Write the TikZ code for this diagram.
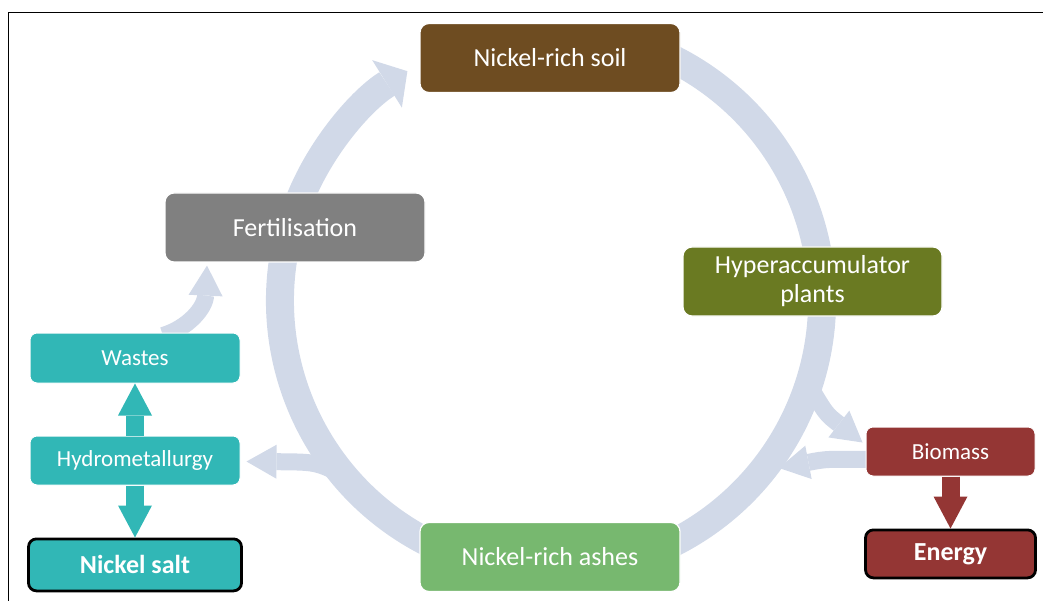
\documentclass[tikz,border=0pt]{standalone}
\usepackage{fontspec}
\setmainfont{Carlito}
\usetikzlibrary{positioning,arrows.meta,backgrounds}
\definecolor{ringblue}{HTML}{D1D9E8}
\definecolor{soilbrown}{HTML}{6E4C21}
\definecolor{plantolive}{HTML}{6A7A22}
\definecolor{ashgreen}{HTML}{77B86F}
\definecolor{fertgrey}{HTML}{808080}
\definecolor{hydroteal}{HTML}{31B7B6}
\definecolor{biored}{HTML}{943634}

\begin{document}
\begin{tikzpicture}[x=1pt, y=-1pt,
  stage/.style={rounded corners=9pt, draw=white, line width=1.2pt, text=white, minimum width=260pt, minimum height=69pt, align=center, font=\fontsize{26}{29}\selectfont},
  sidebox/.style={rounded corners=7pt, draw=white, line width=1pt, text=white, minimum height=49pt, font=\fontsize{23}{27}\selectfont},
  endbox/.style={rounded corners=8pt, draw=black, line width=2.8pt, text=white, font=\fontsize{26}{30}\selectfont\bfseries},
  ring/.style={draw=ringblue, line width=28pt},
  branch/.style={draw=ringblue, line width=17pt, -{Triangle[length=30pt,width=34pt,line width=0pt]}},
  block/.style={line width=18pt, -{Triangle[length=32pt,width=34pt,line width=0pt]}}]
\useasboundingbox (0,0) rectangle (1043,601);
\draw[line width=0.8pt] (1043,12) -- (8,12) -- (8,601);
\coordinate (ringc) at (551,301);

% cycle boxes
\node[stage, fill=soilbrown] (soil) at (550,58) {Nickel-rich soil};
\node[stage, fill=plantolive, minimum width=259pt] (plants) at (812.5,281.5) {Hyperaccumulator\\plants};
\node[stage, fill=ashgreen] (ashes) at (550,557) {Nickel-rich ashes};
\node[stage, fill=fertgrey] (fert) at (295,227.5) {Fertilisation};

% side boxes
\node[sidebox, fill=hydroteal, minimum width=210pt, minimum height=50pt] (wastes) at (135,358) {Wastes};
\node[sidebox, fill=hydroteal, minimum width=210pt, below=52pt of wastes] (hydro) {Hydrometallurgy};
\node[endbox, fill=hydroteal, minimum width=213pt, minimum height=52pt, below=52pt of hydro] (nsalt) {Nickel salt};
\node[sidebox, fill=biored, minimum width=169pt] (biomass) at (950.5,451.5) {Biomass};
\node[endbox, fill=biored, minimum width=170pt, minimum height=48pt, below=52pt of biomass] (energy) {Energy};

\begin{scope}[on background layer]
\draw[ring] (ringc) ++(-68:271) arc[start angle=-68, end angle=64, radius=271];
\draw[ring, -{Triangle[length=24pt,width=56pt,line width=0pt]}] (ringc) ++(116:271) arc[start angle=116, end angle=238, radius=271];
\path (ringc) ++(18:271) coordinate (toBio);
\path (ringc) ++(140:271) coordinate (toHydro);
\coordinate (fromBio) at (779,468);
\draw[branch] (toBio) .. controls (826,414) .. ([xshift=-3pt,yshift=9pt]biomass.west);
\draw[branch] ([xshift=5pt,yshift=-8pt]biomass.west) .. controls (826,459) .. (fromBio);
\draw[branch] (toHydro) .. controls (316,462) .. ([xshift=6pt,yshift=-1pt]hydro.east);
\draw[branch] ([xshift=28pt,yshift=-3pt]wastes.north) .. controls (188,328) and (205,308) .. ([xshift=-88pt,yshift=-3pt]fert.south);
\end{scope}

\draw[block, hydroteal] (hydro) -- (wastes);
\draw[block, hydroteal] (hydro) -- (nsalt);
\draw[block, biored] (biomass) -- (energy);
\end{tikzpicture}
\end{document}
